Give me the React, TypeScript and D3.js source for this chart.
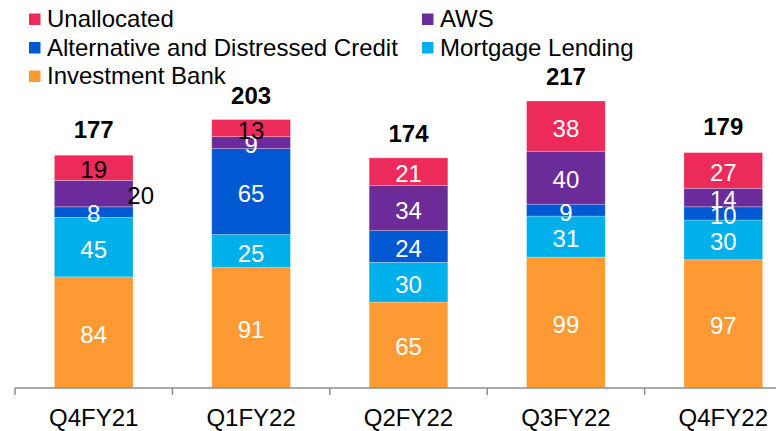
import React from "react";
import * as d3 from "d3";

const categories = ["Q4FY21", "Q1FY22", "Q2FY22", "Q3FY22", "Q4FY22"];
const seriesNames = [
  "Investment Bank",
  "Mortgage Lending",
  "Alternative and Distressed Credit",
  "AWS",
  "Unallocated",
];
const investmentBank = [84, 91, 65, 99, 97];
const mortgageLending = [45, 25, 30, 31, 30];
const altCredit = [8, 65, 24, 9, 10];
const aws = [20, 9, 34, 40, 14];
const unallocated = [19, 13, 21, 38, 27];
const totals = [177, 203, 174, 217, 179];

const colors: Record<string, string> = {
  "Investment Bank": "#FE9A33",
  "Mortgage Lending": "#00B0EA",
  "Alternative and Distressed Credit": "#0058D3",
  AWS: "#6B2C9A",
  Unallocated: "#EC2B5A",
};

const legendOrder = [
  ["Unallocated", "AWS"],
  ["Alternative and Distressed Credit", "Mortgage Lending"],
  ["Investment Bank"],
];

export default function App() {
  const W = 776;
  const H = 431;
  const font = "'Liberation Sans', Arial, sans-serif";
  const fs = 24;
  const baseY = 388;
  const x = d3
    .scaleBand<string>()
    .domain(categories)
    .range([15, 15 + 157.4 * categories.length])
    .paddingInner(0.5)
    .paddingOuter(0.25);
  const y = d3.scaleLinear().domain([0, 217]).range([baseY, baseY - 287]);

  const table = categories.map((c, i) => ({
    cat: c,
    "Investment Bank": investmentBank[i],
    "Mortgage Lending": mortgageLending[i],
    "Alternative and Distressed Credit": altCredit[i],
    AWS: aws[i],
    Unallocated: unallocated[i],
  }));
  const stacked = d3.stack<any>().keys(seriesNames)(table);

  const step = x.step();
  const x0 = 15;
  const tickXs = d3.range(categories.length + 1).map((i) => x0 + i * step);

  const darkLabel = (cat: string, key: string) =>
    (cat === "Q4FY21" && (key === "Unallocated" || key === "AWS")) ||
    (cat === "Q1FY22" && key === "Unallocated");
  const outsideLabel = (cat: string, key: string) => cat === "Q4FY21" && key === "AWS";

  return (
    <svg width={W} height={H} style={{ position: "absolute", left: 0, top: 0, background: "#fff" }}>
      {/* legend */}
      {legendOrder.map((row, r) =>
        row.map((name, c) => {
          const lx = c === 0 ? 29 : 422;
          const ly = 19 + r * 28.5;
          return (
            <g key={name}>
              <rect x={lx} y={ly - 5.5} width={11.5} height={11.5} fill={colors[name]} />
              <text x={lx + 18} y={ly} dy="0.35em" fontFamily={font} fontSize={fs} fill="#000">
                {name}
              </text>
            </g>
          );
        })
      )}
      {/* bars */}
      {stacked.map((s) => (
        <g key={s.key}>
          {s.map((d, i) => {
            const cat = categories[i];
            const bx = x(cat)!;
            const y1 = y(d[1]);
            const y0 = y(d[0]);
            return (
              <rect
                key={cat}
                x={bx}
                y={y1}
                width={x.bandwidth()}
                height={y0 - y1}
                fill={colors[s.key]}
                stroke="rgba(255,255,255,0.35)"
                strokeWidth={0.75}
              />
            );
          })}
        </g>
      ))}
      {/* segment labels */}
      {stacked.map((s) => (
        <g key={"l" + s.key}>
          {s.map((d, i) => {
            const cat = categories[i];
            const cx = x(cat)! + x.bandwidth() / 2 + (outsideLabel(cat, s.key) ? 47 : 0);
            const cy = (y(d[0]) + y(d[1])) / 2 + 2;
            return (
              <text
                key={cat}
                x={cx}
                y={cy}
                dy="0.35em"
                textAnchor="middle"
                fontFamily={font}
                fontSize={fs}
                fill={darkLabel(cat, s.key) ? "#000" : "#fff"}
              >
                {d[1] - d[0]}
              </text>
            );
          })}
        </g>
      ))}
      {/* totals */}
      {categories.map((cat, i) => (
        <text
          key={"t" + cat}
          x={x(cat)! + x.bandwidth() / 2}
          y={y(totals[i]) - 16}
          textAnchor="middle"
          fontFamily={font}
          fontSize={fs}
          fontWeight="bold"
          fill="#000"
        >
          {totals[i]}
        </text>
      ))}
      {/* axis */}
      <line x1={x0} x2={W} y1={baseY} y2={baseY} stroke="#8c8c8c" strokeWidth={1.5} />
      {tickXs.map((tx) => (
        <line key={tx} x1={tx} x2={tx} y1={baseY} y2={baseY + 7} stroke="#8c8c8c" strokeWidth={1.5} />
      ))}
      {categories.map((cat) => (
        <text
          key={"a" + cat}
          x={x(cat)! + x.bandwidth() / 2}
          y={426}
          textAnchor="middle"
          fontFamily={font}
          fontSize={fs}
          fill="#000"
        >
          {cat}
        </text>
      ))}
    </svg>
  );
}
